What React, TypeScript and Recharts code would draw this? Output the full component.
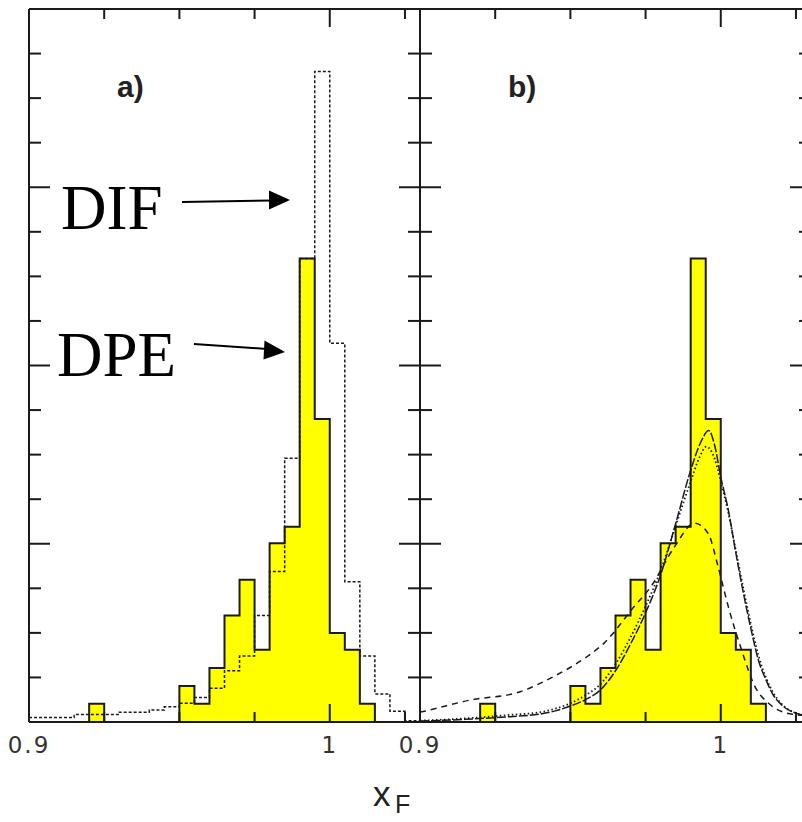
import React from 'react';
import { ComposedChart, Area, Line, XAxis, YAxis, ReferenceLine } from 'recharts';

// histogram bin edges (0.005 wide), the last one closes the range
const binEdges = [
  0.9, 0.905, 0.91, 0.915, 0.92, 0.925, 0.93, 0.935, 0.94, 0.945, 0.95, 0.955, 0.96,
  0.965, 0.97, 0.975, 0.98, 0.985, 0.99, 0.995, 1.0, 1.005, 1.01, 1.015, 1.02, 1.025, 1.03,
];
// DPE (yellow histogram), value of the bin starting at each edge
const dpeValues = [
  0, 0, 0, 0, 0.41, 0, 0, 0, 0, 0, 0.81, 0.41, 1.21,
  2.39, 3.19, 1.62, 4.01, 4.38, 10.4, 6.8, 2.0, 1.62, 0.41, 0, 0, 0, 0,
];
// DIF (dashed histogram)
const difValues = [
  0.1, 0.1, 0.1, 0.17, 0.17, 0.17, 0.22, 0.22, 0.27, 0.34, 0.42, 0.55, 0.76,
  1.15, 1.48, 2.39, 3.38, 5.92, 10.4, 14.6, 8.5, 3.15, 1.48, 0.63, 0.24, 0.03, 0.03,
];

// fitted curves in panel b)
const solidFitX = [0.9, 0.915, 0.93, 0.94, 0.945, 0.95, 0.955, 0.96, 0.965, 0.97, 0.975, 0.98, 0.985, 0.99, 0.9935, 0.996, 0.998, 1.0, 1.0025, 1.005, 1.0075, 1.01, 1.0125, 1.015, 1.0175, 1.02, 1.0225, 1.025, 1.03];
const solidFitY = [0.02, 0.06, 0.12, 0.18, 0.25, 0.36, 0.5, 0.72, 1.15, 1.75, 2.45, 3.3, 4.45, 5.65, 6.3, 6.54, 6.2, 5.5, 4.76, 3.8, 2.9, 2.1, 1.39, 0.95, 0.6, 0.4, 0.27, 0.2, 0.12];
const dottedFitX = [0.9, 0.915, 0.93, 0.94, 0.945, 0.95, 0.955, 0.96, 0.965, 0.97, 0.975, 0.98, 0.985, 0.99, 0.993, 0.9952, 0.998, 1.0, 1.0025, 1.005, 1.0075, 1.01, 1.0125, 1.015, 1.0175, 1.02, 1.0225, 1.025, 1.03];
const dottedFitY = [0.03, 0.08, 0.16, 0.22, 0.3, 0.42, 0.6, 0.85, 1.3, 1.9, 2.6, 3.4, 4.4, 5.4, 5.95, 6.18, 5.9, 5.4, 4.7, 3.85, 3.0, 2.2, 1.5, 1.0, 0.65, 0.42, 0.28, 0.2, 0.12];
const dashedFitX = [0.9, 0.902, 0.9165, 0.9333, 0.9444, 0.9556, 0.9612, 0.9712, 0.9768, 0.9846, 0.9913, 0.9958, 0.9991, 1.0025, 1.0069, 1.0114, 1.0159, 1.0226, 1.03];
const dashedFitY = [0.22, 0.25, 0.49, 0.68, 1.02, 1.47, 1.77, 2.59, 3.04, 3.93, 4.46, 4.23, 3.49, 2.59, 1.62, 0.79, 0.42, 0.19, 0.14];

// axes
const xTicks = [0.9, 0.925, 0.95, 0.975, 1.0, 1.025];
const xTickLabels = ['0.9', '', '', '', '1', ''];
const xMajor = [true, false, false, false, true, false];
const yTicks = [0, 1, 2, 3, 4, 5, 6, 7, 8, 9, 10, 11, 12, 13, 14, 15, 16];

const histRows = binEdges.map((x, i) => ({ x, dpe: dpeValues[i], dif: difValues[i] }));
const toRows = (xs: number[], ys: number[]) => xs.map((x, i) => ({ x, y: ys[i] }));

const PLOT_W = 391;
const PLOT_H = 713;
const INK = '#1a1a1a';

const XTick = (props: any) => {
  const { x, y, payload } = props;
  const i = xTicks.findIndex((t) => Math.abs(t - payload.value) < 1e-6);
  const len = xMajor[i] ? 18 : 10;
  const label = xTickLabels[i];
  return (
    <g>
      {i > 0 && <line x1={x} y1={y} x2={x} y2={y - len} stroke={INK} strokeWidth={2} />}
      {i > 0 && <line x1={x} y1={y - PLOT_H} x2={x} y2={y - PLOT_H + len} stroke={INK} strokeWidth={2} />}
      {label && (
        <text x={x} y={y + 31} textAnchor="middle" fontFamily="DejaVu Sans" fontSize={23} fill="#333" letterSpacing={2}>
          {label}
        </text>
      )}
    </g>
  );
};

const YTick = (props: any) => {
  const { x, y, payload } = props;
  const v = payload.value;
  if (v === 0 || v === 16) return <g />;
  const len = v % 4 === 0 ? 21 : 12;
  return (
    <g>
      <line x1={x} y1={y} x2={x + len} y2={y} stroke={INK} strokeWidth={2} />
      <line x1={x + PLOT_W} y1={y} x2={x + PLOT_W - len} y2={y} stroke={INK} strokeWidth={2} />
    </g>
  );
};

const Panel = ({ withDif }: { withDif: boolean }) => (
  <ComposedChart width={430} height={822} data={histRows} margin={{ top: 9, right: 10, bottom: 70, left: 0 }}>
    <XAxis
      dataKey="x"
      type="number"
      domain={[0.9, 1.03]}
      ticks={xTicks}
      interval={0}
      allowDataOverflow
      height={30}
      tickSize={0}
      tickMargin={0}
      tickLine={false}
      tick={<XTick />}
      axisLine={{ stroke: INK, strokeWidth: 2 }}
    />
    <YAxis
      type="number"
      domain={[0, 16]}
      ticks={yTicks}
      interval={0}
      allowDataOverflow
      width={29}
      tickSize={0}
      tickMargin={0}
      tickLine={false}
      tick={<YTick />}
      axisLine={{ stroke: INK, strokeWidth: 2 }}
    />
    <ReferenceLine y={16} stroke={INK} strokeWidth={2} />
    <ReferenceLine x={1.03} stroke={INK} strokeWidth={2} />
    <Area
      dataKey="dpe"
      type="stepAfter"
      fill="#ffff00"
      fillOpacity={1}
      stroke={INK}
      strokeWidth={2}
      isAnimationActive={false}
      dot={false}
      activeDot={false}
    />
    {withDif && (
      <Line
        dataKey="dif"
        type="stepAfter"
        stroke={INK}
        strokeWidth={1.5}
        strokeDasharray="3 2"
        dot={false}
        activeDot={false}
        isAnimationActive={false}
      />
    )}
    {!withDif && (
      <Line
        data={toRows(dashedFitX, dashedFitY)}
        dataKey="y"
        type="monotone"
        stroke={INK}
        strokeWidth={1.5}
        strokeDasharray="6 5"
        dot={false}
        activeDot={false}
        isAnimationActive={false}
      />
    )}
    {!withDif && (
      <Line
        data={toRows(dottedFitX, dottedFitY)}
        dataKey="y"
        type="monotone"
        stroke={INK}
        strokeWidth={1.8}
        strokeDasharray="1.5 2.5"
        dot={false}
        activeDot={false}
        isAnimationActive={false}
      />
    )}
    {!withDif && (
      <Line
        data={toRows(solidFitX, solidFitY)}
        dataKey="y"
        type="monotone"
        stroke={INK}
        strokeWidth={1.5}
        strokeDasharray="9 2"
        dot={false}
        activeDot={false}
        isAnimationActive={false}
      />
    )}
  </ComposedChart>
);

export default function App() {
  return (
    <div style={{ position: 'fixed', left: 0, top: 0, width: 802, height: 822, overflow: 'hidden', background: '#fff' }}>
      <div style={{ position: 'absolute', left: 0, top: 0 }}>
        <Panel withDif />
      </div>
      <div style={{ position: 'absolute', left: 391, top: 0 }}>
        <Panel withDif={false} />
      </div>
      <svg width={802} height={822} style={{ position: 'absolute', left: 0, top: 0, pointerEvents: 'none' }}>
        <text x={117} y={97} fontFamily="Liberation Sans" fontWeight="bold" fontSize={30} fill="#222">a)</text>
        <text x={508} y={97} fontFamily="Liberation Sans" fontWeight="bold" fontSize={30} fill="#222">b)</text>
        <text x={61} y={229} fontFamily="Liberation Serif" fontSize={63} fill="#000">DIF</text>
        <text x={57} y={376} fontFamily="Liberation Serif" fontSize={63} fill="#000">DPE</text>
        <line x1={182} y1={202} x2={272} y2={200.5} stroke="#000" strokeWidth={2} />
        <polygon points="290,200 269,190.5 269,209.5" fill="#000" />
        <line x1={194} y1={344} x2={267} y2={349} stroke="#000" strokeWidth={2} />
        <polygon points="285,352 264.5,340.5 263.5,359.5" fill="#000" />
        <text x={373} y={806} fontFamily="Liberation Sans" fontSize={35} fill="#222">
          x<tspan x={395} y={813} fontSize={25}>F</tspan>
        </text>
      </svg>
    </div>
  );
}
